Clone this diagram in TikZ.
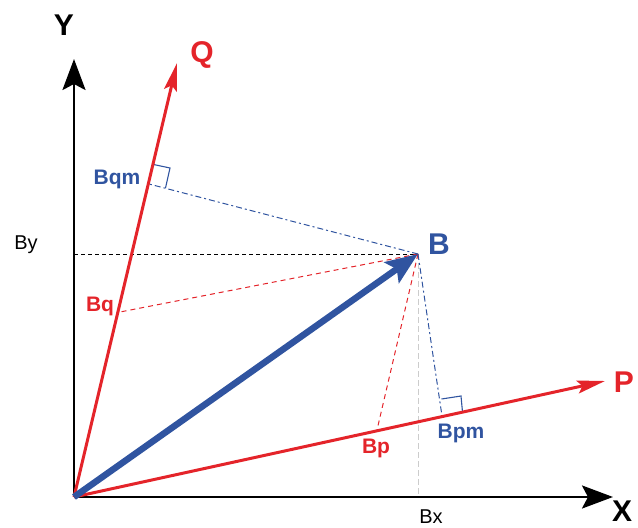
\documentclass[tikz,border=0pt]{standalone}
\usepackage{fontspec}
\setmainfont{Liberation Sans}
\usetikzlibrary{arrows.meta}

\definecolor{vecred}{RGB}{228,36,42}
\definecolor{vecblue}{RGB}{48,84,160}

\tikzset{
  axis/.style={line width=2.6pt, -{Stealth[length=31pt, width=23pt, inset=6pt]}},
  redaxis/.style={vecred, line width=3pt, -{Stealth[length=28pt, width=13pt, inset=5pt]}},
  bluevec/.style={vecblue, line width=6.5pt, -{Stealth[length=32pt, width=25pt, inset=6pt]}},
  redproj/.style={vecred, line width=1pt, dash pattern=on 5pt off 4pt},
  blueproj/.style={vecblue, line width=1pt, dash pattern=on 6pt off 3pt on 2pt off 3pt},
  rightmark/.style={vecblue, line width=1.1pt},
  small/.style={font=\bfseries\fontsize{21}{21}\selectfont},
  big/.style={font=\bfseries\fontsize{30}{30}\selectfont},
}

\begin{document}
\begin{tikzpicture}[x=1pt, y=-1pt]
  \useasboundingbox (0,0) rectangle (638,528);

  % points (pixel grid, y downwards)
  \coordinate (O) at (74,497);
  \coordinate (Xend) at (613,497);
  \coordinate (Yend) at (74,59);
  \coordinate (Pend) at (605,381);
  \coordinate (Qend) at (177,63);
  \coordinate (B) at (418,254);
  \coordinate (By) at (74,254);
  \coordinate (Bx) at (418,497);
  \coordinate (Bq) at (120,312);
  \coordinate (Bp) at (377,430);
  \coordinate (Fq) at (149,184);
  \coordinate (Fp) at (442,416);

  % helper lines
  \draw[black, line width=0.9pt, dash pattern=on 4pt off 3pt] (By) -- (B);
  \draw[gray!40, line width=0.7pt, dash pattern=on 6pt off 3pt] (B) -- (Bx);
  \draw[redproj] (B) -- (Bq);
  \draw[redproj] (B) -- (Bp);
  \draw[blueproj] (B) -- (Fq);
  \draw[blueproj] (B) -- (Fp);

  % right angle marks
  \draw[rightmark] (153.6,164.5) -- (170,168) -- (165.5,188);
  \draw[rightmark] (441.5,399) -- (461,396) -- (462.5,412);

  % axes
  \draw[axis] (O) -- (Xend);
  \draw[axis] (O) -- (Yend);
  \draw[redaxis] (O) -- (Pend);
  \draw[redaxis] (O) -- (Qend);
  \draw[bluevec] (O) -- (B);

  % labels
  \node[big, anchor=base] (ylab) at (64,35) {Y};
  \node[big, anchor=base, inner sep=0pt] (xlab) at (622,521) {X};
  \node[big, anchor=base, vecred] (qlab) at (202,62) {Q};
  \node[big, anchor=base, vecred] (plab) at (624,392) {P};
  \node[big, anchor=base, vecblue] (blab) at (439,254) {B};
  \node[small, anchor=base, vecblue] (bqmlab) at (117,184) {Bqm};
  \node[small, anchor=base, vecblue] (bpmlab) at (461,438) {Bpm};
  \node[small, anchor=base, vecred] (bqlab) at (100,311) {Bq};
  \node[small, anchor=base, vecred] (bplab) at (376,453) {Bp};
  \node[anchor=base, font=\fontsize{20}{20}\selectfont] (bylab) at (26,249) {By};
  \node[anchor=base, font=\fontsize{20}{20}\selectfont] (bxlab) at (431,523) {Bx};
\end{tikzpicture}
\end{document}
